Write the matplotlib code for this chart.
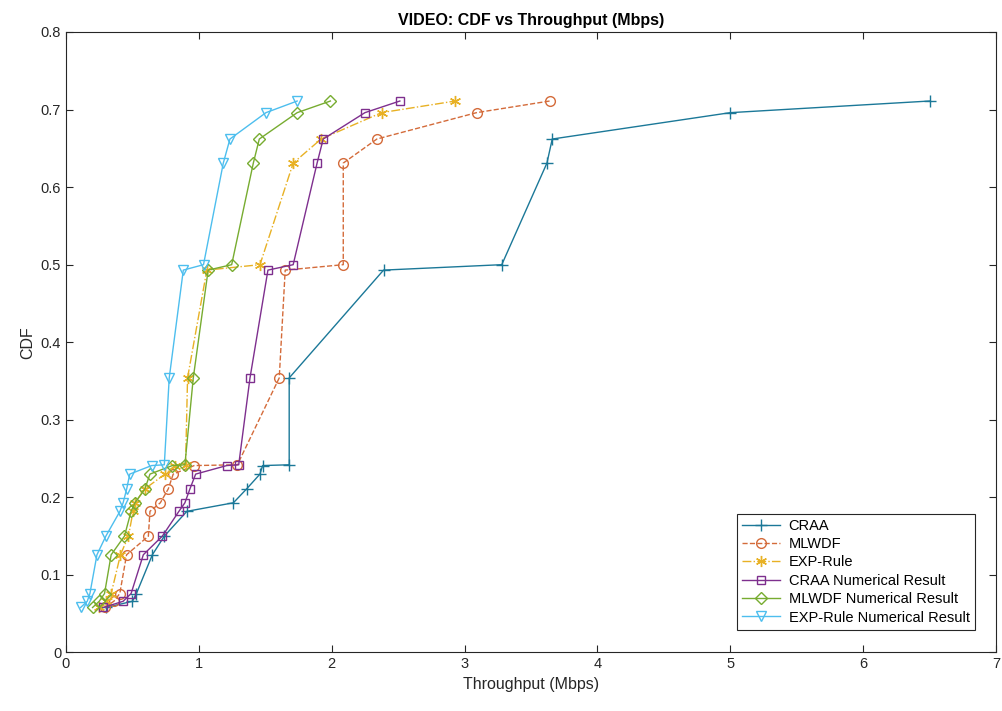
import numpy as np
import matplotlib
matplotlib.use("Agg")
import matplotlib.pyplot as plt

plt.rcParams['font.family'] = ['Liberation Sans', 'DejaVu Sans']

# CDF levels shared by every scheme
cdf = [0.058, 0.066, 0.076, 0.126, 0.150, 0.182, 0.193, 0.211, 0.230, 0.241,
       0.242, 0.354, 0.493, 0.500, 0.631, 0.662, 0.696, 0.711]

# throughput (Mbps) at each CDF level
craa = [0.30, 0.50, 0.53, 0.65, 0.74, 0.91, 1.26, 1.36, 1.46, 1.48,
        1.68, 1.68, 2.39, 3.28, 3.62, 3.66, 5.00, 6.50]
mlwdf = [0.29, 0.36, 0.405, 0.456, 0.62, 0.632, 0.71, 0.77, 0.807, 0.965,
         1.29, 1.605, 1.65, 2.087, 2.087, 2.34, 3.09, 3.64]
exp_rule = [0.25, 0.30, 0.34, 0.41, 0.47, 0.505, 0.52, 0.594, 0.745, 0.82,
            0.90, 0.915, 1.06, 1.46, 1.71, 1.92, 2.375, 2.93]
craa_num = [0.28, 0.43, 0.49, 0.582, 0.725, 0.85, 0.895, 0.933, 0.976, 1.21,
            1.30, 1.385, 1.52, 1.71, 1.89, 1.936, 2.25, 2.513]
mlwdf_num = [0.20, 0.25, 0.29, 0.34, 0.44, 0.49, 0.519, 0.594, 0.632, 0.80,
             0.895, 0.958, 1.07, 1.247, 1.41, 1.455, 1.74, 1.99]
exp_num = [0.11, 0.16, 0.18, 0.233, 0.30, 0.406, 0.43, 0.457, 0.48, 0.645,
           0.74, 0.777, 0.883, 1.035, 1.184, 1.234, 1.505, 1.74]

# name, data, colour, line style, marker, marker size
series = [
    ("CRAA", craa, '#1b7898', '-', '+', 8),
    ("MLWDF", mlwdf, '#d46b3a', '--', 'o', 7),
    ("EXP-Rule", exp_rule, '#e8b124', '-.', (6, 2, 0), 8),
    ("CRAA Numerical Result", craa_num, '#7e2f8e', '-', 's', 6),
    ("MLWDF Numerical Result", mlwdf_num, '#77ac30', '-', 'D', 6),
    ("EXP-Rule Numerical Result", exp_num, '#4dbeee', '-', 'v', 7.5),
]

fig = plt.figure(figsize=(10.03, 7.11), dpi=100)
ax = fig.add_axes([0.0658, 0.0823, 0.9272, 0.8727])

for name, xs, col, ls, mk, ms in series:
    ax.plot(xs, cdf, color=col, linestyle=ls, marker=mk, markersize=ms,
            markerfacecolor='none', markeredgecolor=col, markeredgewidth=1.0,
            linewidth=1.0, label=name)

ax.set_xlim(0, 7)
ax.set_ylim(0, 0.8)
ax.set_xticks(np.arange(0, 8, 1))
ax.set_yticks(np.arange(0, 0.81, 0.1))
ax.set_yticklabels(['0'] + ['%.1f' % v for v in np.arange(0.1, 0.81, 0.1)])

axcol = '#262626'
for sp in ax.spines.values():
    sp.set_color(axcol)
    sp.set_linewidth(0.8)
ax.tick_params(direction='in', top=True, right=True, length=5, width=0.8,
               colors=axcol, labelsize=10.5, labelcolor=axcol)

ax.set_title("VIDEO: CDF vs Throughput (Mbps)", fontsize=11.5,
             fontweight='bold', pad=5)
ax.set_xlabel("Throughput (Mbps)", fontsize=11.5, color=axcol)
ax.set_ylabel("CDF", fontsize=11.5, color=axcol)

leg = ax.legend(loc='lower right', bbox_to_anchor=(0.985, 0.025),
                fontsize=10.5, fancybox=False, framealpha=1,
                edgecolor=axcol, handlelength=2.6, borderpad=0.35,
                labelspacing=0.3, handletextpad=0.6)
leg.get_frame().set_linewidth(0.8)

fig.savefig("out.png", dpi=100)
